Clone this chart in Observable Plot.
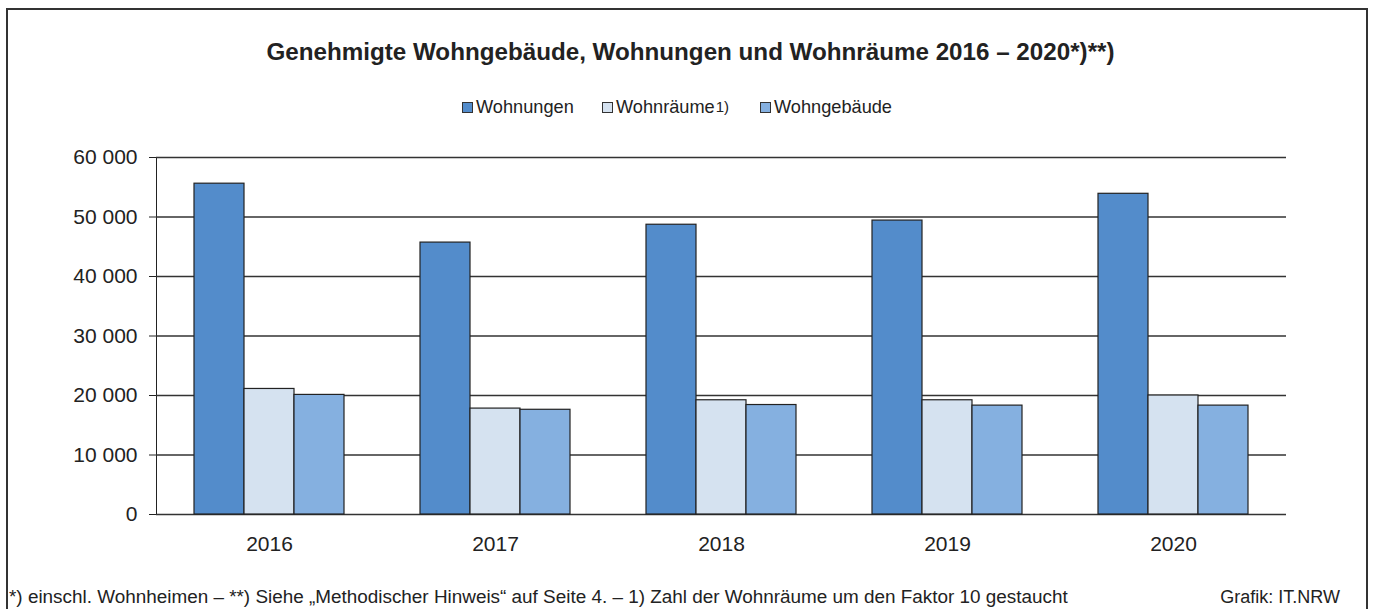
<!DOCTYPE html>
<html><head><meta charset="utf-8">
<script src="https://cdn.jsdelivr.net/npm/d3@7"></script>
<script src="https://cdn.jsdelivr.net/npm/@observablehq/plot@0.6"></script>
<style>
html,body{margin:0;padding:0;background:#fff;width:1373px;height:609px;overflow:hidden;font-family:"Liberation Sans",Arial,sans-serif;color:#222;}
#frame{position:absolute;left:6px;top:8px;width:1358px;height:700px;border:2px solid #333;}
#title{position:absolute;left:0;width:1381px;top:39px;line-height:26px;font-size:24.2px;font-weight:bold;text-align:center;}
#legend{position:absolute;left:0;width:1373px;top:96px;line-height:22px;font-size:18.2px;}
.li{position:absolute;top:0;display:flex;align-items:center;white-space:nowrap;}
.sw{display:inline-block;width:9px;height:9px;border:1px solid #333;margin-right:3px;}
.li sup{font-size:15px;line-height:0;vertical-align:7px;margin-left:1px;}
#chart{position:absolute;left:0;top:140px;}
#foot{position:absolute;left:9px;top:586px;line-height:22px;font-size:18.9px;}
#src{position:absolute;right:33px;top:586px;line-height:22px;font-size:18px;}
</style></head>
<body>
<div id="frame"></div>
<div id="title">Genehmigte Wohngebäude, Wohnungen und Wohnräume 2016 – 2020*)**)</div>
<div id="legend"></div>
<div id="chart"></div>
<div id="foot">*) einschl. Wohnheimen – **) Siehe „Methodischer Hinweis“ auf Seite 4. – 1) Zahl der Wohnräume um den Faktor 10 gestaucht</div>
<div id="src">Grafik: IT.NRW</div>
<script>
const years = ["2016", "2017", "2018", "2019", "2020"];
const series = ["Wohnungen", "Wohnräume", "Wohngebäude"];
const wohnungen = [55600, 45700, 48700, 49400, 53900];
const wohnraeume = [21100, 17800, 19200, 19200, 20000];
const wohngebaeude = [20100, 17600, 18400, 18300, 18300];
const yTicks = [0, 10000, 20000, 30000, 40000, 50000, 60000];
const colors = ["#538ccb", "#d5e2f0", "#85b0e0"];
const legendLabels = ["Wohnungen", "Wohnräume", "Wohngebäude"];
const legendSup = ["", "1)", ""];
const legendLeft = [462, 602, 760];

const values = [wohnungen, wohnraeume, wohngebaeude];
const data = [];
years.forEach((yr, i) => series.forEach((s, j) => data.push({year: yr, series: s, value: values[j][i]})));

const leg = document.getElementById("legend");
series.forEach((s, j) => {
  const d = document.createElement("div");
  d.className = "li";
  d.style.left = legendLeft[j] + "px";
  d.innerHTML = `<span class="sw" style="background:${colors[j]}"></span>${legendLabels[j]}${legendSup[j] ? `<sup>${legendSup[j]}</sup>` : ""}`;
  leg.appendChild(d);
});

const fmt = d => d3.format(",")(d).replace(/,/g, " ");

const chart = Plot.plot({
  width: 1373,
  height: 420,
  marginLeft: 154,
  marginRight: 85,
  marginTop: 17,
  marginBottom: 46,
  facet: {data: data, x: "year"},
  fx: {domain: years, padding: 0, label: null, tickSize: 0, tickPadding: 22},
  x: {domain: series, paddingInner: 0, paddingOuter: 0.755, axis: null},
  y: {domain: [0, 60000], ticks: yTicks, tickFormat: fmt, label: null, tickSize: 7, tickPadding: 12, line: true},
  color: {domain: series, range: colors},
  style: {fontFamily: "Liberation Sans, Arial, sans-serif", fontSize: "21px", color: "#222", background: "transparent", overflow: "visible"},
  marks: [
    Plot.ruleY(yTicks, {stroke: "#333", strokeWidth: 1.4}),
    Plot.barY(data, {x: "series", y: "value", fill: "series", stroke: "#222", strokeWidth: 1.2})
  ]
});
document.getElementById("chart").appendChild(chart);
</script>
</body></html>
